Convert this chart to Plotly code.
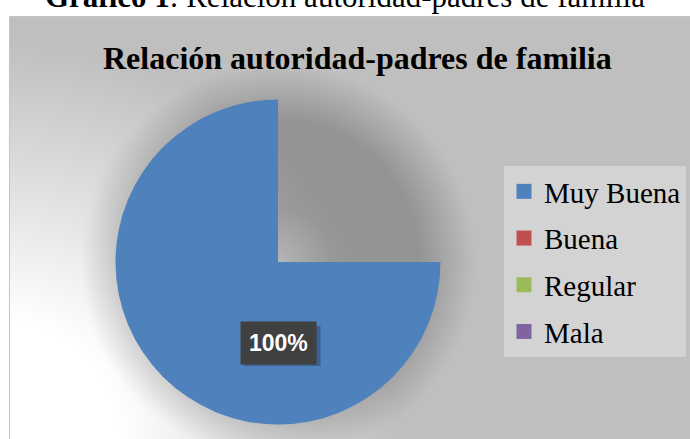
import base64, struct, zlib
import numpy as np
import plotly.graph_objects as go

# ---------------- data ----------------
categories = ["Muy Buena", "Buena", "Regular", "Mala"]
values = [100, 0, 0, 0]
colors = ["#4f81bd", "#c0504d", "#9bbb59", "#8064a2"]
chart_title = "Relación autoridad-padres de familia"
caption_bold = "Gráfico 1"
caption_rest = ": Relación autoridad-padres de familia"

W, H = 690, 439

# ---------------- background (gradient + soft shadow) ----------------
cx, cy, R = 278.0, 262.0, 162.5
xx, yy = np.meshgrid(np.arange(W) + 0.5, np.arange(H) + 0.5)
d = np.hypot(xx - 0, yy - 439)
t = np.clip((d - 120) / 280, 0, 1)
base = 255 - 64 * t
r = np.hypot(xx - cx, yy - cy)
s = np.clip((R + 35 - r) / 55, 0, 1) * np.clip(0.55 + r / 120, 0, 1)
img = base * (1 - 0.22 * s)
img[(xx < 10) | (yy < 17)] = 255
arr = np.clip(img, 0, 255).astype(np.uint8)
arr = np.stack([arr, arr, arr], axis=-1)


def png_uri(a):
    h, w, _ = a.shape
    raw = b"".join(b"\x00" + a[i].tobytes() for i in range(h))

    def chunk(tag, data):
        return (struct.pack(">I", len(data)) + tag + data
                + struct.pack(">I", zlib.crc32(tag + data) & 0xFFFFFFFF))

    png = (b"\x89PNG\r\n\x1a\n"
           + chunk(b"IHDR", struct.pack(">IIBBBBB", w, h, 8, 2, 0, 0, 0))
           + chunk(b"IDAT", zlib.compress(raw, 9))
           + chunk(b"IEND", b""))
    return "data:image/png;base64," + base64.b64encode(png).decode()


# ---------------- figure ----------------
total = sum(values)
gap = total / 3  # the reference draws the sector over 270 degrees
fig = go.Figure()
fig.add_trace(go.Pie(
    labels=categories + [" "],
    values=values + [gap],
    marker=dict(colors=colors + ["rgba(0,0,0,0)"], line=dict(width=0)),
    sort=False, direction="clockwise", rotation=90,
    textinfo="none", hoverinfo="label+percent", showlegend=False,
    domain=dict(x=[(cx - R) / W, (cx + R) / W],
                y=[(H - cy - R) / H, (H - cy + R) / H]),
))
for i, (c, col) in enumerate(zip(categories, colors)):
    fig.add_trace(go.Scatter(
        x=[None], y=[None], mode="markers", name=c, legendgroup=f"g{i}",
        marker=dict(symbol="square", size=15, color=col),
    ))

pct = f"{round(values[0] / total * 100)}%"
lx, ly = 278.5, 343
# soft shadow behind the data label box
fig.add_shape(type="rect", xref="paper", yref="paper",
              x0=(lx - 35) / W, x1=(lx + 42) / W,
              y0=1 - (ly + 23) / H, y1=1 - (ly - 17) / H,
              fillcolor="rgba(0,0,0,0.25)", line=dict(width=0), layer="above")
fig.add_annotation(x=lx / W, y=1 - ly / H, xref="paper", yref="paper",
                   xanchor="center", yanchor="middle",
                   text=f"<b>{pct}</b>", showarrow=False, bgcolor="#404040",
                   font=dict(family="Liberation Sans", size=23, color="white"),
                   borderpad=8)
fig.add_annotation(x=357 / W, y=1 - 57.6 / H, xref="paper", yref="paper",
                   xanchor="center", yanchor="middle",
                   text=f"<b>{chart_title}</b>", showarrow=False,
                   font=dict(family="Liberation Serif", size=32, color="black"))
fig.add_annotation(x=345 / W, y=1 + 3.5 / H, xref="paper", yref="paper",
                   xanchor="center", yanchor="middle",
                   text=f"<b>{caption_bold}</b>{caption_rest}",
                   showarrow=False,
                   font=dict(family="Liberation Serif", size=31, color="black"))

fig.add_shape(type="rect", xref="paper", yref="paper",
              x0=9.5 / W, x1=1.01, y0=-0.01, y1=1 - 16.5 / H,
              line=dict(color="#c4c4c4", width=1), layer="above")

fig.update_layout(
    width=W, height=H, margin=dict(l=0, r=0, t=0, b=0),
    paper_bgcolor="white", plot_bgcolor="rgba(0,0,0,0)",
    xaxis=dict(visible=False), yaxis=dict(visible=False),
    images=[dict(source=png_uri(arr), xref="paper", yref="paper", x=0, y=1,
                 sizex=1, sizey=1, xanchor="left", yanchor="top",
                 sizing="stretch", layer="below")],
    legend=dict(x=504 / W, y=1 - 166 / H, xanchor="left", yanchor="top",
                bgcolor="#d3d3d3", borderwidth=0, tracegroupgap=6, itemwidth=30,
                font=dict(family="Liberation Serif", size=29, color="black")),
    showlegend=True,
)
fig.write_html("out.html", config={"displayModeBar": False},
               post_script="document.body.style.margin='0';document.body.style.overflow='hidden';")
